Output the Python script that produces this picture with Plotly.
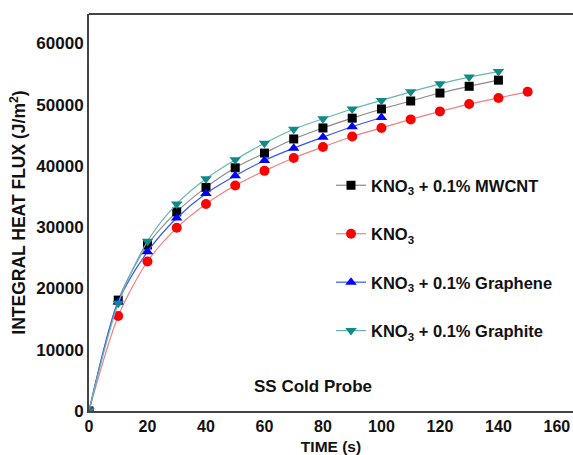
import plotly.graph_objects as go

# Time axis (s)
time_full = [0, 10, 20, 30, 40, 50, 60, 70, 80, 90, 100, 110, 120, 130, 140, 150]
time_mwcnt = [0, 10, 20, 30, 40, 50, 60, 70, 80, 90, 100, 110, 120, 130, 140]
time_graphene = [0, 10, 20, 30, 40, 50, 60, 70, 80, 90, 100]
time_graphite = [0, 10, 20, 30, 40, 50, 60, 70, 80, 90, 100, 110, 120, 130, 140]

# Integral heat flux (J/m^2)
flux_mwcnt = [0, 18100, 27100, 32500, 36500, 39700, 42100, 44400, 46200, 47800,
              49300, 50600, 51900, 53000, 54000]
flux_kno3 = [0, 15500, 24400, 29900, 33800, 36800, 39200, 41300, 43100, 44800,
             46200, 47600, 48900, 50100, 51100, 52100]
flux_graphene = [0, 17800, 26000, 31500, 35500, 38400, 40900, 42900, 44700, 46400,
                 47900]
flux_graphite = [0, 17600, 27700, 33800, 37900, 41000, 43700, 46000, 47700, 49300,
                 50700, 52100, 53400, 54500, 55400]

# Axis ticks
x_ticks = [0, 20, 40, 60, 80, 100, 120, 140, 160]
y_ticks = [0, 10000, 20000, 30000, 40000, 50000, 60000]
y_tick_labels = ["0", "10000", "20000", "30000", "40000", "50000", "60000"]

series = [
    ("KNO<sub>3</sub> + 0.1% MWCNT", time_mwcnt, flux_mwcnt, "#8a8a8a", "#000000", "square", 9),
    ("KNO<sub>3</sub>", time_full, flux_kno3, "#f08080", "#ff0000", "circle", 10),
    ("KNO<sub>3</sub> + 0.1% Graphene", time_graphene, flux_graphene, "#3355ff", "#0000ff", "triangle-up", 10),
    ("KNO<sub>3</sub> + 0.1% Graphite", time_graphite, flux_graphite, "#66b8b0", "#108a88", "triangle-down", 10),
]

FONT = "Liberation Sans, Arial, sans-serif"
INK = "#111111"

fig = go.Figure()
for i, (name, t, q, lcol, mcol, sym, size) in enumerate(series):
    fig.add_trace(go.Scatter(
        x=t, y=q, name=name, mode="lines+markers",
        line=dict(color=lcol, width=1.2, shape="spline", smoothing=0.8),
        marker=dict(symbol=sym, size=size, color=mcol),
        legendgroup=f"g{i}",
    ))

fig.add_annotation(
    x=76.5, y=4000, xref="x", yref="y", text="SS Cold Probe", showarrow=False,
    font=dict(family=FONT, size=17, color=INK, weight="bold"),
)

fig.update_layout(
    width=573, height=455,
    margin=dict(l=89, r=0, t=14, b=44),
    paper_bgcolor="white", plot_bgcolor="white",
    font=dict(family=FONT, color=INK),
    showlegend=True,
    legend=dict(
        x=0.5, y=0.612, xanchor="left", yanchor="top",
        bgcolor="rgba(0,0,0,0)",
        font=dict(family=FONT, size=16.5, color=INK, weight="bold"),
        tracegroupgap=24,
    ),
    xaxis=dict(
        range=[0, 165.5], tickvals=x_ticks,
        showgrid=False, zeroline=False, showline=True, linecolor="#444444",
        linewidth=2, ticks="",
        tickfont=dict(family=FONT, size=16, color=INK, weight="bold"),
        title=dict(text="TIME (s)", standoff=8,
                   font=dict(family=FONT, size=15.5, color=INK, weight="bold")),
    ),
    yaxis=dict(
        range=[0, 64800], tickvals=y_ticks, ticktext=y_tick_labels,
        showgrid=False, zeroline=False, showline=True, linecolor="#444444",
        linewidth=2, ticks="",
        tickfont=dict(family=FONT, size=17, color=INK, weight="bold"),
        title=dict(text="INTEGRAL HEAT FLUX (J/m<sup>2</sup>)", standoff=6,
                   font=dict(family=FONT, size=17.5, color=INK, weight="bold")),
    ),
)

# Top border of the frame
fig.add_shape(type="line", xref="paper", yref="paper", x0=0, x1=1, y0=1, y1=1,
              line=dict(color="#444444", width=2))

fig.write_html("out.html")
